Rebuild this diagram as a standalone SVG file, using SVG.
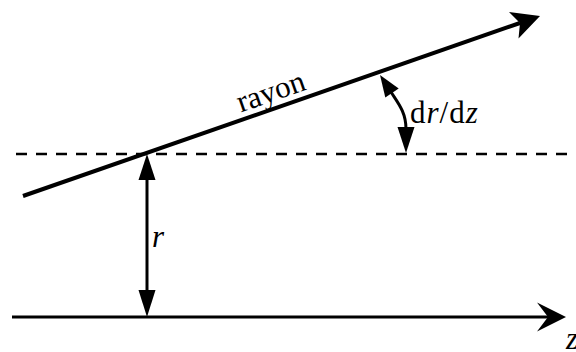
<svg xmlns="http://www.w3.org/2000/svg" width="576" height="352" viewBox="0 0 576 352">
<style>
.ln{stroke:#000;fill:none}
.hd{fill:#000;stroke:none}
.t{font-family:'Times New Roman','Liberation Serif',serif;font-size:31px;fill:#000}
.i{font-style:italic}
</style>
<rect width="576" height="352" fill="#fff"/>
<g id="connectors">
  <line id="dashed" class="ln" x1="16" y1="154" x2="570" y2="154" stroke-width="2.6" stroke-dasharray="11 9"/>
  <g id="axis">
    <line class="ln" x1="12" y1="317" x2="549" y2="317" stroke-width="3"/>
    <polygon class="hd" points="566,317 537,302.5 548,317 537,331.5"/>
  </g>
  <g id="ray">
    <line class="ln" x1="23" y1="196" x2="520" y2="23" stroke-width="4"/>
    <polygon class="hd" points="540,16 509,12 520,23 518.5,38.5"/>
  </g>
  <g id="r-arrow">
    <line class="ln" x1="147" y1="178" x2="147" y2="293" stroke-width="3"/>
    <polygon class="hd" points="147,154 138.5,180 155.5,180"/>
    <polygon class="hd" points="147,317 138.5,290 155.5,290"/>
  </g>
  <g id="angle-arrow">
    <path class="ln" d="M391,92 C398,103 406,112 406,129" stroke-width="3"/>
    <polygon class="hd" points="380,75 385.3,97.4 398.7,88.6"/>
    <polygon class="hd" points="406,153 397.5,127 414.5,127"/>
  </g>
</g>
<g id="labels">
  <text class="t" transform="translate(274,101) rotate(-19.2)" text-anchor="middle">rayon</text>
  <text class="t" x="410" y="123" letter-spacing="1">d<tspan class="i">r</tspan>/d<tspan class="i">z</tspan></text>
  <text class="t i" x="152" y="247">r</text>
  <text class="t i" x="566" y="349">z</text>
</g>
</svg>
